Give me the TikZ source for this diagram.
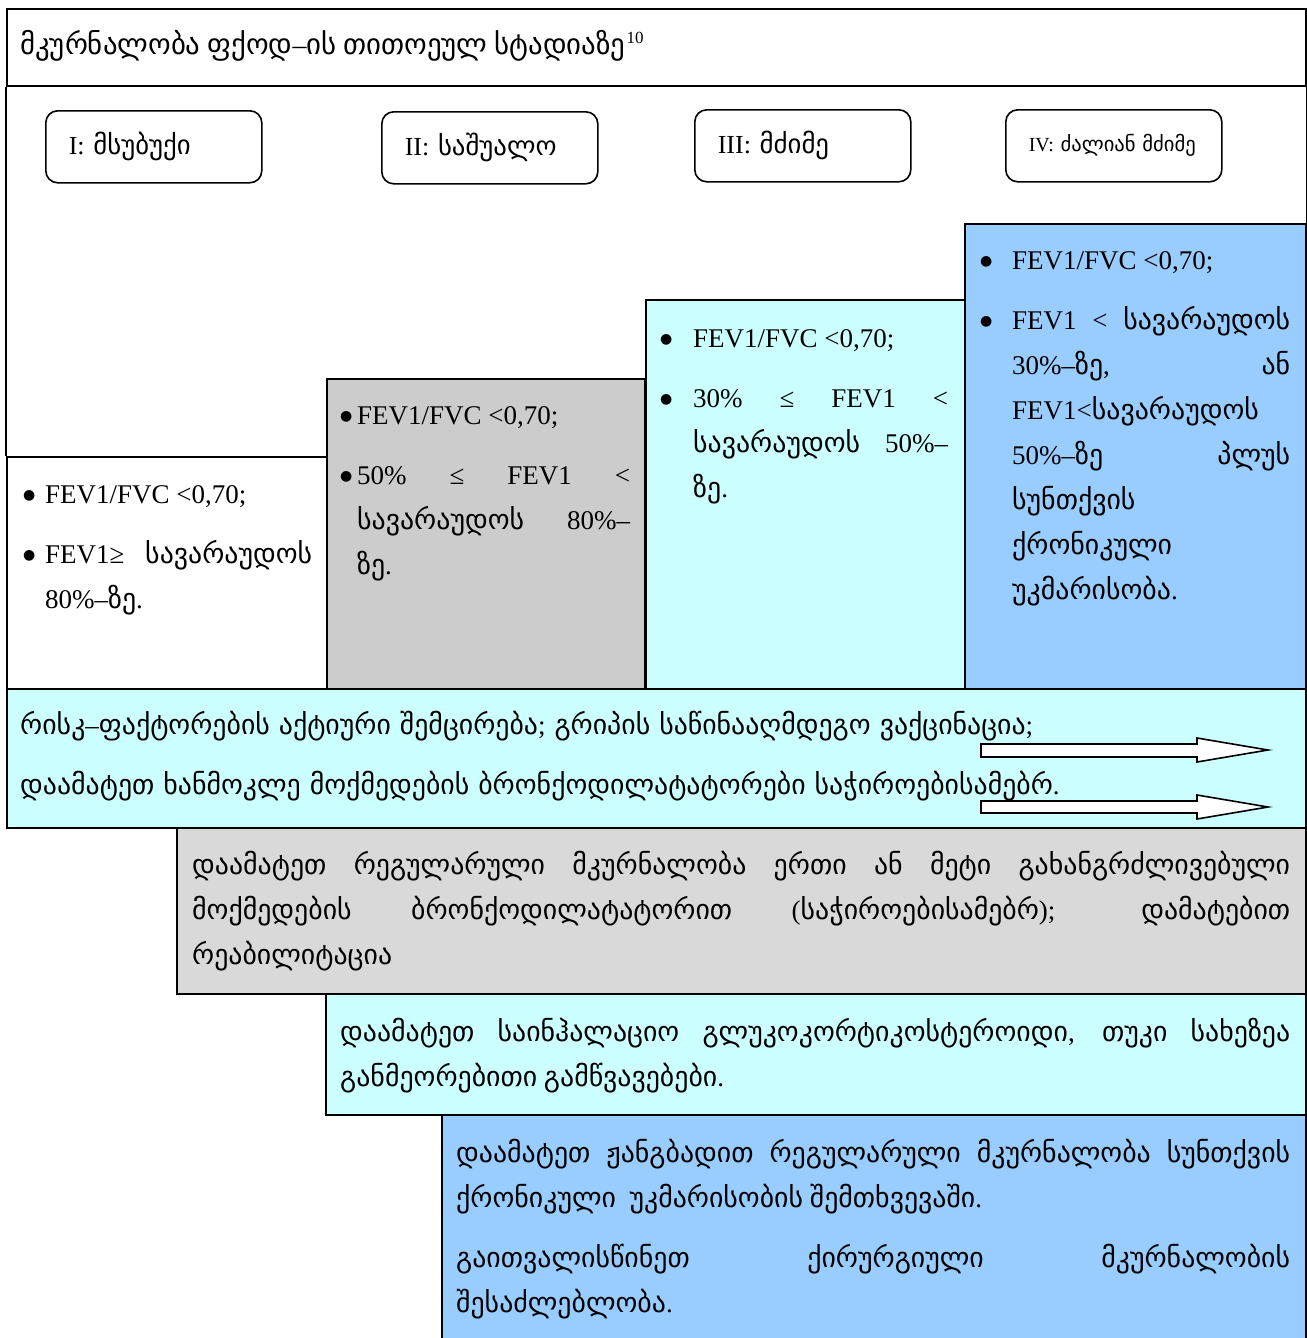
\documentclass[tikz,border=0pt]{standalone}
\usepackage{fontspec}
\setmainfont{Liberation Serif}
\newfontfamily\geofont{DejaVu Sans}[Scale=1.03]
\newfontfamily\dotfont{DejaVu Sans}
\usetikzlibrary{calc}

% Georgian letters (U+10A0..U+10FF) are set in DejaVu Sans automatically
\makeatletter
\newXeTeXintercharclass\geo@class
\@tempcnta="10A0
\loop\ifnum\@tempcnta<"1100
  \XeTeXcharclass\@tempcnta=\geo@class
  \advance\@tempcnta\@ne
\repeat
\XeTeXinterchartoks 0 \geo@class={\begingroup\geofont}
\XeTeXinterchartoks 4095 \geo@class={\begingroup\geofont}
\XeTeXinterchartoks \geo@class 0={\endgroup}
\XeTeXinterchartoks \geo@class 4095={\endgroup}
\makeatother
\XeTeXinterchartokenstate=1

\definecolor{cyanbg}{HTML}{CCFFFF}
\definecolor{graycol}{HTML}{CCCCCC}
\definecolor{grayrow}{HTML}{D9D9D9}
\definecolor{bluebg}{HTML}{99CCFF}

\newcommand\bodysize{\fontsize{27}{45}\selectfont\hyphenpenalty=10000\exhyphenpenalty=10000}
% bulleted paragraph with a hanging indent of #1
\newcommand\bitem[1]{\noindent\hangindent=#1\hangafter=1%
  \makebox[#1][l]{\strut\raisebox{4pt}{\dotfont\fontsize{14}{14}\selectfont ●}}}

\tikzset{
  frame/.style={draw=black, line width=2pt},
  panel/.style={frame, anchor=north west, inner sep=0pt, minimum width=#1},
  stage/.style={draw=black, line width=1.6pt, rounded corners=12pt, anchor=north west,
    minimum height=72pt, text width=170pt, inner xsep=23pt, inner ysep=0pt, align=left,
    font=\fontsize{26}{30}\selectfont},
  body/.style={anchor=north west, inner sep=0pt, text width=#1, align=justify,
    font={\bodysize\setlength\parskip{15pt}}},
}

\begin{document}
\begin{tikzpicture}[x=1pt, y=-1pt]
\useasboundingbox (0,0) rectangle (1306,1338);

% title row
\node[panel=1299pt, minimum height=77pt] (title) at (6,8) {};
\node[anchor=base west, inner sep=0pt, font=\fontsize{28}{30}\selectfont] (titletext) at (20,55)
  {მკურნალობა ფქოდ–ის თითოეულ სტადიაზე\kern1pt\raisebox{11pt}{\fontsize{17}{17}\selectfont 10}};

% stage labels
\node[stage] (s1) at (45,110) {I: მსუბუქი};
\node[stage] (s2) at (381,111) {II: საშუალო};
\node[stage] (s3) at (694,109) {III: მძიმე};
\node[stage, font=\fontsize{20}{24}\selectfont, inner xsep=23pt] (s4) at (1005,109)
  {\mbox{IV: ძალიან მძიმე}};

% staircase of stage criteria
\node[panel=320pt, minimum height=232pt, fill=white] (c1) at (6,456) {};
\node[panel=318pt, minimum height=310pt, fill=graycol] (c2) at (326,378) {};
\node[panel=319pt, minimum height=389pt, fill=cyanbg] (c3) at (645,299) {};
\node[panel=341pt, minimum height=465pt, fill=bluebg] (c4) at (964,223) {};
\draw[frame] (title.south west) -- (c1.north west);
\draw[frame] (title.south east) -- (c4.north east);

\node[body=289pt] (t1) at (23,471.5) {%
  \bitem{22pt}FEV1/FVC <0,70;\par
  \bitem{22pt}FEV1≥ სავარაუდოს\linebreak 80\%–ზე.\par};
\node[body=290pt] (t2) at (340,392.5) {%
  \bitem{17pt}FEV1/FVC <0,70;\par
  \bitem{17pt}50\% ≤ FEV1 <\linebreak სავარაუდოს 80\%–\linebreak ზე.\par};
\node[body=288pt] (t3) at (660,315.5) {%
  \bitem{33pt}FEV1/FVC <0,70;\par
  \bitem{33pt}30\% ≤ FEV1 <\linebreak სავარაუდოს 50\%–\linebreak ზე.\par};
\node[body=310pt] (t4) at (980,237.5) {%
  \bitem{32pt}FEV1/FVC <0,70;\par
  \bitem{32pt}FEV1 < სავარაუდოს\linebreak 30\%–ზე, ან\linebreak
  FEV1<სავარაუდოს\newline 50\%–ზე პლუს\linebreak სუნთქვის\newline
  ქრონიკული\newline უკმარისობა.\par};

% treatment rows
\node[panel=1299pt, minimum height=139pt, fill=cyanbg] (r1) at (6,688) {};
\node[panel=1129pt, minimum height=166pt, fill=grayrow] (r2) at (176,827) {};
\node[panel=980pt, minimum height=121pt, fill=cyanbg] (r3) at (325,993) {};
\node[panel=864pt, minimum height=240pt, fill=bluebg] (r4) at (441,1114) {};

\node[body=1270pt, align=left] (u1) at (20,702.5) {%
  \strut რისკ–ფაქტორების აქტიური შემცირება; გრიპის საწინააღმდეგო ვაქცინაცია;\par
  \strut დაამატეთ ხანმოკლე მოქმედების ბრონქოდილატატორები საჭიროებისამებრ.};
\node[body=1098pt] (u2) at (192,842.5) {%
  \strut დაამატეთ რეგულარული მკურნალობა ერთი ან მეტი გახანგრძლივებული\linebreak
  მოქმედების ბრონქოდილატატორით (საჭიროებისამებრ); დამატებით\linebreak
  რეაბილიტაცია\par};
\node[body=950pt] (u3) at (340,1009.5) {%
  \strut დაამატეთ საინჰალაციო გლუკოკორტიკოსტეროიდი, თუკი სახეზეა
  განმეორებითი გამწვავებები.\par};
\node[body=834pt] (u4) at (456,1130.5) {%
  \strut დაამატეთ ჟანგბადით რეგულარული მკურნალობა სუნთქვის\linebreak
  ქრონიკული~ უკმარისობის შემთხვევაში.\par
  \strut გაითვალისწინეთ ქირურგიული მკურნალობის\linebreak
  შესაძლებლობა.\par};

% progression arrows
\draw[fill=white, line width=1.6pt]
  (981,744) -- (1197,744) -- (1197,738) -- (1268,750) -- (1197,762)
  -- (1197,757) -- (981,757) -- cycle;
\draw[fill=white, line width=1.6pt]
  (981,801) -- (1197,801) -- (1197,795) -- (1268,807) -- (1197,819)
  -- (1197,813) -- (981,813) -- cycle;
\end{tikzpicture}
\end{document}
